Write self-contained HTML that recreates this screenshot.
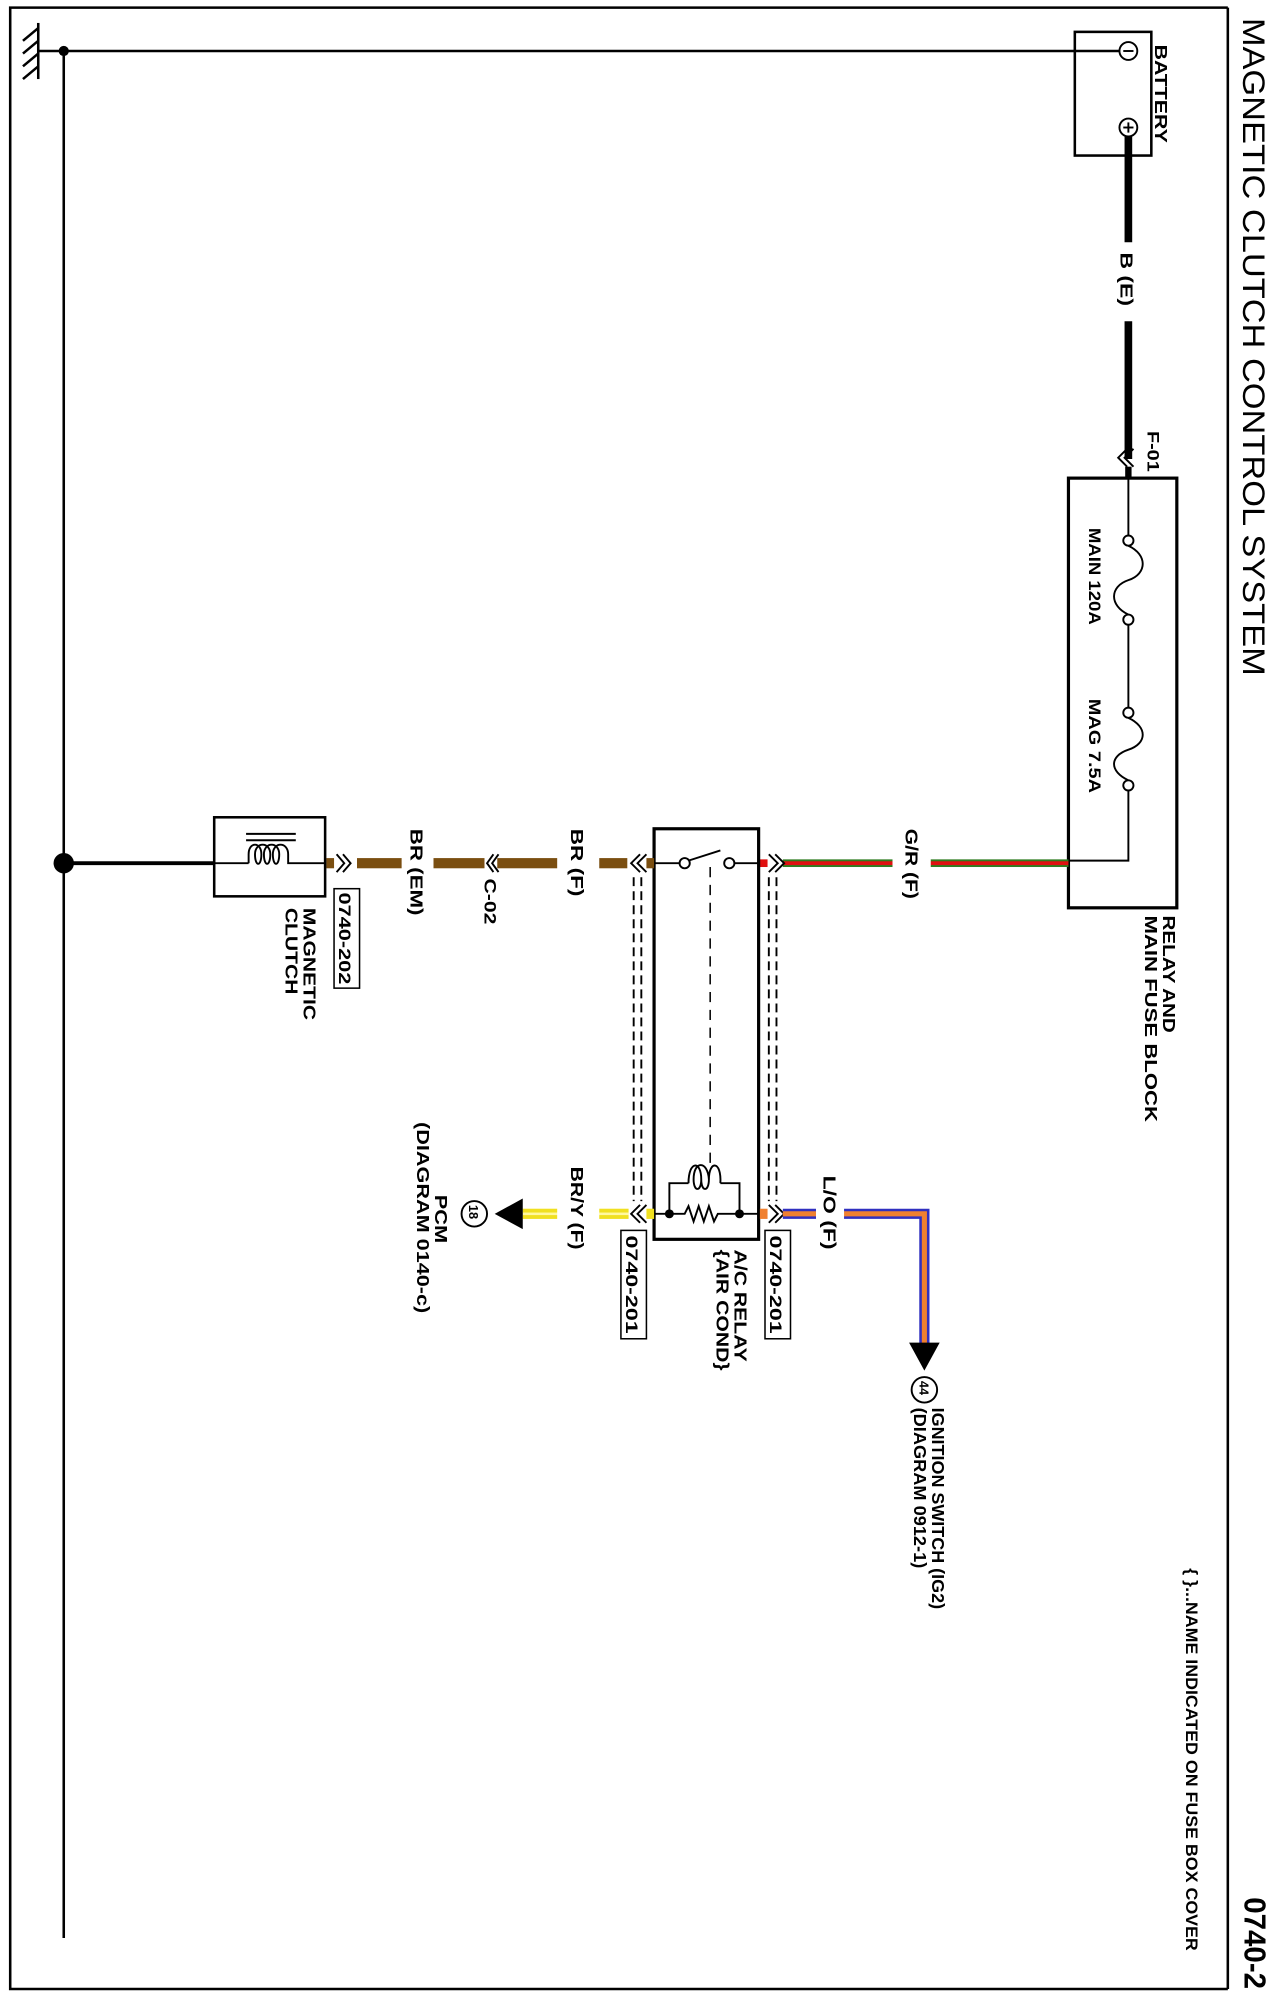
<!DOCTYPE html>
<html><head><style>
html,body{margin:0;padding:0;background:#fff;}
svg{display:block;}
text{font-family:"Liberation Sans",Arial,sans-serif;font-weight:bold;fill:#000;}
</style></head><body>
<svg width="1275" height="2000" viewBox="0 0 1000 1568.6" preserveAspectRatio="none" xmlns="http://www.w3.org/2000/svg">
<rect x="0" y="0" width="1000" height="1569" fill="#fff"/>
<polyline points="963,6 8,6 8,1560 963,1560" fill="none" stroke="#000" stroke-width="2"/>
<line x1="963" y1="6" x2="963" y2="1560" stroke="#000" stroke-width="2"/>
<line x1="30" y1="18" x2="30" y2="62" stroke="#000" stroke-width="2"/>
<g stroke="#000" stroke-width="2">
<line x1="30" y1="22" x2="18" y2="32"/><line x1="30" y1="32" x2="18" y2="42"/><line x1="30" y1="42" x2="18" y2="52"/><line x1="30" y1="52" x2="18" y2="62"/>
</g>
<line x1="30" y1="40" x2="885" y2="40" stroke="#000" stroke-width="2"/>
<circle cx="50" cy="40" r="4" fill="#000"/>
<line x1="50" y1="40" x2="50" y2="1520" stroke="#000" stroke-width="2"/>
<rect x="843" y="25" width="60" height="97" fill="none" stroke="#000" stroke-width="2"/>
<circle cx="885" cy="40" r="7" fill="#fff" stroke="#000" stroke-width="1.5"/>
<line x1="881" y1="40" x2="889" y2="40" stroke="#000" stroke-width="1.5"/>
<circle cx="885" cy="100" r="7" fill="#fff" stroke="#000" stroke-width="1.5"/>
<line x1="881" y1="100" x2="889" y2="100" stroke="#000" stroke-width="1.5"/>
<line x1="885" y1="96" x2="885" y2="104" stroke="#000" stroke-width="1.5"/>
<text transform="translate(906,35) rotate(90)" font-size="14" textLength="77" lengthAdjust="spacingAndGlyphs">BATTERY</text>
<line x1="885" y1="107" x2="885" y2="190" stroke="#000" stroke-width="6"/>
<line x1="885" y1="252" x2="885" y2="360" stroke="#000" stroke-width="6"/>
<text transform="translate(879,198) rotate(90)" font-size="14" textLength="42" lengthAdjust="spacingAndGlyphs">B (E)</text>
<path d="M889,352 L882,359 L889,366 M884,352 L877,359 L884,366" fill="none" stroke="#000" stroke-width="1.5"/>
<line x1="885" y1="366" x2="885" y2="375" stroke="#000" stroke-width="5"/>
<text transform="translate(900,338) rotate(90)" font-size="13" textLength="32" lengthAdjust="spacingAndGlyphs">F-01</text>
<rect x="838" y="375" width="85" height="337" fill="none" stroke="#000" stroke-width="2.5"/>
<path d="M885,375 V420 M885,490 V555 M885,620 V675 H838" fill="none" stroke="#000" stroke-width="1.5"/>
<circle cx="885" cy="424" r="4" fill="#fff" stroke="#000" stroke-width="1.5"/>
<circle cx="885" cy="486" r="4" fill="#fff" stroke="#000" stroke-width="1.5"/>
<path d="M885,428 C900,435 900,450 885,455 C870,460 870,475 885,482" fill="none" stroke="#000" stroke-width="1.5"/>
<circle cx="885" cy="559" r="4" fill="#fff" stroke="#000" stroke-width="1.5"/>
<circle cx="885" cy="616" r="4" fill="#fff" stroke="#000" stroke-width="1.5"/>
<path d="M885,563 C900,570 900,583 885,588 C870,593 870,605 885,612" fill="none" stroke="#000" stroke-width="1.5"/>
<text transform="translate(854,414) rotate(90)" font-size="13" textLength="76" lengthAdjust="spacingAndGlyphs">MAIN 120A</text>
<text transform="translate(854,548) rotate(90)" font-size="13" textLength="74" lengthAdjust="spacingAndGlyphs">MAG 7.5A</text>
<text transform="translate(912,718) rotate(90)" font-size="14" textLength="92" lengthAdjust="spacingAndGlyphs">RELAY AND</text>
<text transform="translate(898,718) rotate(90)" font-size="14" textLength="162" lengthAdjust="spacingAndGlyphs">MAIN FUSE BLOCK</text>
<g>
<rect x="705" y="674" width="133" height="6" fill="#2e7d20"/><rect x="705" y="675.5" width="133" height="3" fill="#e01010"/>
<rect x="614" y="674" width="91" height="6" fill="#2e7d20"/><rect x="614" y="675.5" width="91" height="3" fill="#e01010"/>
<rect x="700" y="670" width="30" height="14" fill="#fff"/>
<rect x="596" y="674" width="6" height="6" fill="#e01010"/>
</g>
<text transform="translate(710,650) rotate(90)" font-size="14" textLength="55" lengthAdjust="spacingAndGlyphs">G/R (F)</text>
<path d="M603,670 L610,677 L603,684 M608,670 L615,677 L608,684" fill="none" stroke="#000" stroke-width="1.5"/>
<path d="M502,670 L495,677 L502,684 M507,670 L500,677 L507,684" fill="none" stroke="#000" stroke-width="1.5"/>
<path d="M603,945 L610,952 L603,959 M608,945 L615,952 L608,959" fill="none" stroke="#000" stroke-width="1.5"/>
<path d="M502,945 L495,952 L502,959 M507,945 L500,952 L507,959" fill="none" stroke="#000" stroke-width="1.5"/>
<g stroke="#000" stroke-width="1.5" stroke-dasharray="7,4">
<line x1="497" y1="688" x2="497" y2="942"/><line x1="503" y1="688" x2="503" y2="942"/>
<line x1="603" y1="688" x2="603" y2="942"/><line x1="609" y1="688" x2="609" y2="942"/>
</g>
<rect x="513" y="650" width="82" height="322" fill="#fff" stroke="#000" stroke-width="2.5"/>
<line x1="513" y1="677" x2="533" y2="677" stroke="#000" stroke-width="1.5"/>
<circle cx="537" cy="677" r="4" fill="#fff" stroke="#000" stroke-width="1.5"/>
<line x1="540" y1="675" x2="565" y2="667" stroke="#000" stroke-width="1.5"/>
<circle cx="572" cy="677" r="4" fill="#fff" stroke="#000" stroke-width="1.5"/>
<line x1="576" y1="677" x2="595" y2="677" stroke="#000" stroke-width="1.5"/>
<line x1="557" y1="680" x2="557" y2="915" stroke="#000" stroke-width="1.2" stroke-dasharray="8,6"/>
<path d="M513,952 H525 M525,952 V928 H540 M580,952 V928 H565" fill="none" stroke="#000" stroke-width="1.5"/>
<path d="M540,928 C540,910 550,910 550,925 C550,935 544,935 544,925 C544,910 555,910 556,925 C556,935 550,935 550,925 M556,925 C556,910 566,910 565,928" fill="none" stroke="#000" stroke-width="1.5"/>
<path d="M525,952 H537 L540,946 L544,958 L548,946 L552,958 L556,946 L560,958 L563,952 H595" fill="none" stroke="#000" stroke-width="1.5"/>
<circle cx="525" cy="952" r="3.5" fill="#000"/><circle cx="580" cy="952" r="3.5" fill="#000"/>
<text transform="translate(576,980) rotate(90)" font-size="14" textLength="88" lengthAdjust="spacingAndGlyphs">A/C RELAY</text>
<text transform="translate(562,980) rotate(90)" font-size="14" textLength="95" lengthAdjust="spacingAndGlyphs">{AIR COND}</text>
<rect x="487" y="965" width="20" height="85" fill="#fff" stroke="#000" stroke-width="1.2"/>
<text transform="translate(491,969) rotate(90)" font-size="13" textLength="77" lengthAdjust="spacingAndGlyphs">0740-201</text>
<rect x="600" y="965" width="20" height="85" fill="#fff" stroke="#000" stroke-width="1.2"/>
<text transform="translate(604,969) rotate(90)" font-size="13" textLength="77" lengthAdjust="spacingAndGlyphs">0740-201</text>
<g fill="#7a4e10">
<rect x="507" y="673" width="6" height="8"/>
<rect x="470" y="673" width="22" height="8"/>
<rect x="390" y="673" width="47" height="8"/>
<rect x="340" y="673" width="40" height="8"/>
<rect x="280" y="673" width="35" height="8"/>
<rect x="256" y="673" width="6" height="8"/>
</g>
<text transform="translate(448,650) rotate(90)" font-size="14" textLength="53" lengthAdjust="spacingAndGlyphs">BR (F)</text>
<text transform="translate(322,650) rotate(90)" font-size="14" textLength="68" lengthAdjust="spacingAndGlyphs">BR (EM)</text>
<path d="M387,670 L382,677 L387,684 M391,670 L386,677 L391,684" fill="none" stroke="#000" stroke-width="1.5"/>
<text transform="translate(380,689) rotate(90)" font-size="13" textLength="36" lengthAdjust="spacingAndGlyphs">C-02</text>
<path d="M264,670 L270,677 L264,684 M269,670 L275,677 L269,684" fill="none" stroke="#000" stroke-width="1.5"/>
<rect x="168" y="641" width="87" height="62" fill="#fff" stroke="#000" stroke-width="2"/>
<line x1="168" y1="677" x2="50" y2="677" stroke="#000" stroke-width="3"/>
<circle cx="50" cy="677" r="8" fill="#000"/>
<path d="M168,677 H195 M240,677 H255" fill="none" stroke="#000" stroke-width="1.5"/>
<path d="M195,677 V670 C195,660 205,660 205,670 C205,680 200,680 200,670 C200,660 212,660 212,670 C212,680 207,680 207,670 C207,660 219,660 219,670 C219,680 214,680 214,670 C214,660 226,660 226,670 V677 H240" fill="none" stroke="#000" stroke-width="1.5"/>
<line x1="193" y1="654" x2="232" y2="654" stroke="#000" stroke-width="1.5"/>
<line x1="193" y1="659" x2="232" y2="659" stroke="#000" stroke-width="1.5"/>
<text transform="translate(238,712) rotate(90)" font-size="14" textLength="88" lengthAdjust="spacingAndGlyphs">MAGNETIC</text>
<text transform="translate(224,712) rotate(90)" font-size="14" textLength="68" lengthAdjust="spacingAndGlyphs">CLUTCH</text>
<rect x="262" y="697" width="20" height="78" fill="#fff" stroke="#000" stroke-width="1.2"/>
<text transform="translate(266,700) rotate(90)" font-size="13" textLength="72" lengthAdjust="spacingAndGlyphs">0740-202</text>
<g>
<rect x="507" y="948" width="6" height="8" fill="#f0e020"/>
<rect x="410" y="948" width="83" height="8" fill="#f0e020"/>
<rect x="410" y="951" width="83" height="2" fill="#fff8a0"/>
<rect x="437" y="944" width="33" height="16" fill="#fff"/>
</g>
<text transform="translate(448,915) rotate(90)" font-size="14" textLength="65" lengthAdjust="spacingAndGlyphs">BR/Y (F)</text>
<polygon points="410,940 410,964 388,952" fill="#000"/>
<circle cx="372" cy="952" r="10" fill="#fff" stroke="#000" stroke-width="1.5"/>
<text transform="translate(368,945) rotate(90)" font-size="10">18</text>
<text transform="translate(341,937) rotate(90)" font-size="14" textLength="38" lengthAdjust="spacingAndGlyphs">PCM</text>
<text transform="translate(327,880) rotate(90)" font-size="14" textLength="150" lengthAdjust="spacingAndGlyphs">(DIAGRAM 0140-c)</text>
<path d="M614,952 H725 V1055" fill="none" stroke="#3030c0" stroke-width="8"/>
<path d="M614,952 H725 V1055" fill="none" stroke="#f08030" stroke-width="4"/>
<rect x="596" y="948" width="6" height="8" fill="#f08030"/>
<rect x="640" y="944" width="22" height="16" fill="#fff"/>
<text transform="translate(646,922) rotate(90)" font-size="14" textLength="58" lengthAdjust="spacingAndGlyphs">L/O (F)</text>
<polygon points="713,1053 737,1053 725,1075" fill="#000"/>
<circle cx="725" cy="1090" r="10" fill="#fff" stroke="#000" stroke-width="1.5"/>
<text transform="translate(721,1083) rotate(90)" font-size="10">44</text>
<text transform="translate(731,1104) rotate(90)" font-size="14" textLength="158" lengthAdjust="spacingAndGlyphs">IGNITION SWITCH (IG2)</text>
<text transform="translate(717,1104) rotate(90)" font-size="14" textLength="126" lengthAdjust="spacingAndGlyphs">(DIAGRAM 0912-1)</text>
<text transform="translate(930,1230) rotate(90)" font-size="13" textLength="300" lengthAdjust="spacingAndGlyphs">{ }...NAME INDICATED ON FUSE BOX COVER</text>
<text transform="translate(975,14) rotate(90)" font-size="25" style="font-weight:normal" textLength="516" lengthAdjust="spacingAndGlyphs">MAGNETIC CLUTCH CONTROL SYSTEM</text>
<text transform="translate(976,1488) rotate(90)" font-size="24" textLength="72" lengthAdjust="spacingAndGlyphs">0740-2</text>
</svg>
</body></html>
